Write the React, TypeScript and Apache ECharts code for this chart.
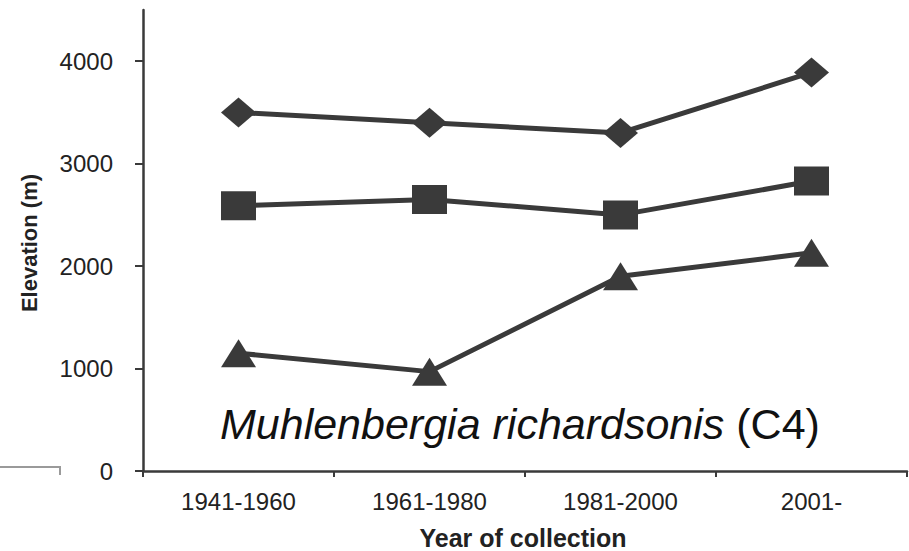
import React, { useEffect, useRef } from "react";
import * as echarts from "echarts";

const categories = ["1941-1960", "1961-1980", "1981-2000", "2001-"];
const diamondValues = [3500, 3400, 3300, 3890];
const squareValues = [2590, 2650, 2500, 2830];
const triangleValues = [1150, 970, 1900, 2130];
const yTicks = { min: 0, max: 4500, interval: 1000 };

const LINE = "#3a3a3a";
const TEXT = "#222222";
const FONT = "'Liberation Sans', Arial, sans-serif";

export default function App() {
  const ref = useRef<HTMLDivElement>(null);
  useEffect(() => {
    if (!ref.current) return;
    const chart = echarts.init(ref.current, undefined, { renderer: "svg" });
    const mk = (data: number[], symbol: string, size: number[]) => ({
      type: "line",
      data,
      symbol,
      symbolSize: size,
      showAllSymbol: true,
      lineStyle: { color: LINE, width: 5 },
      itemStyle: { color: LINE, borderWidth: 0 },
      emphasis: { disabled: true },
      z: 3,
    });
    chart.setOption({
      animation: false,
      backgroundColor: "#ffffff",
      grid: {
        left: 143,
        right: 2,
        top: 10,
        bottom: 80,
        containLabel: false,
        outerBoundsMode: "none",
      },
      xAxis: {
        type: "category",
        data: categories,
        boundaryGap: true,
        axisLine: { lineStyle: { color: LINE, width: 2.5 } },
        axisTick: { show: true, length: 6, alignWithLabel: false, lineStyle: { color: LINE, width: 2 } },
        axisLabel: { fontFamily: FONT, fontSize: 24, color: TEXT, margin: 18 },
        splitLine: { show: false },
      },
      yAxis: {
        type: "value",
        min: yTicks.min,
        max: yTicks.max,
        interval: yTicks.interval,
        axisLine: { show: true, lineStyle: { color: LINE, width: 2.5 } },
        axisTick: { show: true, length: 8, lineStyle: { color: LINE, width: 2 } },
        axisLabel: {
          fontFamily: FONT,
          fontSize: 24,
          color: TEXT,
          margin: 30,
          showMaxLabel: false,
          formatter: (v: number) => (v > 4000 ? "" : String(v)),
        },
        splitLine: { show: false },
      },
      series: [
        mk(diamondValues, "diamond", [35, 30]),
        mk(squareValues, "rect", [35, 29]),
        mk(triangleValues, "triangle", [35, 28]),
      ],
      graphic: [
        {
          type: "text",
          x: 29,
          y: 243,
          rotation: Math.PI / 2,
          style: {
            text: "{e|Elevation (m)}",
            align: "center",
            verticalAlign: "middle",
            rich: {
              e: { fontFamily: FONT, fontWeight: "bold", fontSize: 22, fill: TEXT },
            },
          },
        },
        {
          type: "text",
          x: 523,
          y: 538,
          style: {
            text: "{e|Year of collection}",
            align: "center",
            verticalAlign: "middle",
            rich: {
              e: { fontFamily: FONT, fontWeight: "bold", fontSize: 25, fill: TEXT },
            },
          },
        },
        {
          type: "text",
          x: 220,
          y: 424,
          style: {
            text: "{i|Muhlenbergia richardsonis }{n|(C4)}",
            verticalAlign: "middle",
            align: "left",
            rich: {
              i: { fontFamily: FONT, fontStyle: "italic", fontSize: 43, fill: "#111" },
              n: { fontFamily: FONT, fontSize: 43, fill: "#111" },
            },
          },
        },
        {
          type: "polyline",
          shape: { points: [[0, 467], [60, 467], [60, 475]] },
          style: { stroke: "#9a9a9a", lineWidth: 2, fill: null },
        },
      ],
    });
    return () => chart.dispose();
  }, []);
  return <div ref={ref} style={{ width: 909, height: 551, position: "absolute", left: 0, top: 0 }} />;
}
